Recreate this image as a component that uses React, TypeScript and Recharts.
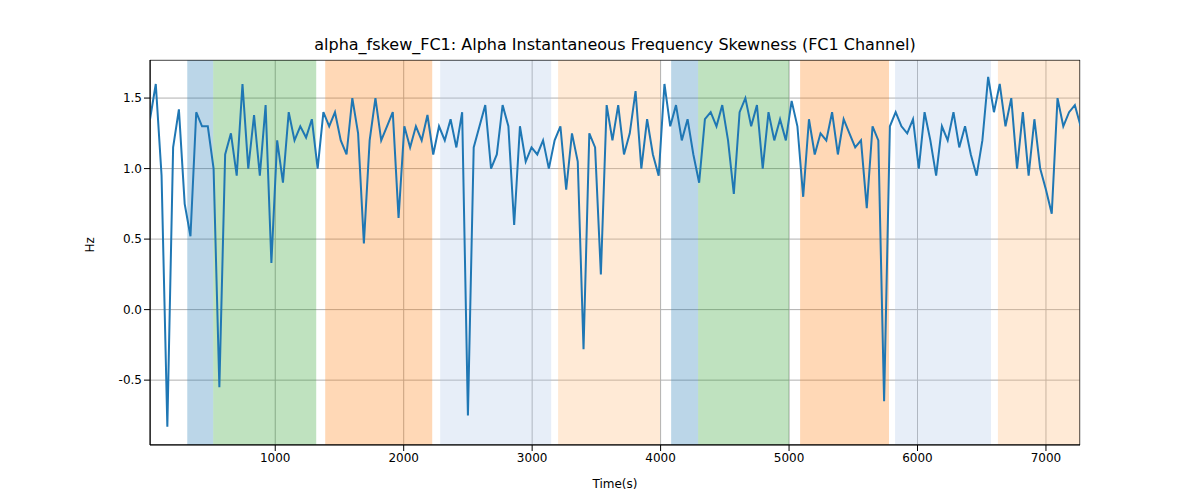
import { LineChart, Line, XAxis, YAxis, CartesianGrid, ReferenceArea } from "recharts";

const values = [
  1.35, 1.6, 0.95, -0.83, 1.15, 1.42, 0.75, 0.52, 1.4, 1.3,
  1.3, 1.0, -0.55, 1.1, 1.25, 0.95, 1.6, 1.0, 1.38, 0.95,
  1.45, 0.33, 1.2, 0.9, 1.4, 1.2, 1.3, 1.22, 1.35, 1.0,
  1.4, 1.3, 1.4, 1.2, 1.1, 1.5, 1.25, 0.47, 1.2, 1.5,
  1.2, 1.3, 1.4, 0.65, 1.3, 1.15, 1.3, 1.2, 1.38, 1.1,
  1.3, 1.2, 1.35, 1.15, 1.4, -0.75, 1.15, 1.3, 1.45, 1.0,
  1.1, 1.45, 1.3, 0.6, 1.3, 1.05, 1.15, 1.1, 1.2, 1.0,
  1.2, 1.3, 0.85, 1.25, 1.05, -0.28, 1.25, 1.15, 0.25, 1.45,
  1.2, 1.45, 1.1, 1.25, 1.55, 1.0, 1.35, 1.1, 0.95, 1.6,
  1.3, 1.45, 1.2, 1.35, 1.1, 0.9, 1.35, 1.4, 1.3, 1.45,
  1.2, 0.82, 1.4, 1.5, 1.3, 1.45, 1.0, 1.4, 1.2, 1.35,
  1.2, 1.48, 1.3, 0.8, 1.35, 1.1, 1.25, 1.2, 1.4, 1.1,
  1.35, 1.25, 1.15, 1.2, 0.72, 1.3, 1.2, -0.65, 1.3, 1.4,
  1.3, 1.25, 1.35, 1.0, 1.4, 1.2, 0.95, 1.3, 1.2, 1.4,
  1.15, 1.3, 1.1, 0.95, 1.2, 1.65, 1.4, 1.6, 1.3, 1.5,
  1.0, 1.4, 0.95, 1.35, 1.0, 0.85, 0.68, 1.5, 1.3, 1.4,
  1.45, 1.3,
];
const times = values.map((_, i) => 25 + i * 45);
const data = values.map((v, i) => ({ t: times[i], v }));

const bands: [number, number, string, number][] = [
  [315, 517, "#1f77b4", 0.3],
  [517, 1319, "#2ca02c", 0.3],
  [1389, 2222, "#ff7f0e", 0.3],
  [2284, 3148, "#aec7e8", 0.3],
  [3202, 3996, "#ffbb78", 0.3],
  [4082, 4292, "#1f77b4", 0.3],
  [4292, 5000, "#2ca02c", 0.3],
  [5086, 5778, "#ff7f0e", 0.3],
  [5825, 6572, "#aec7e8", 0.3],
  [6626, 7265, "#ffbb78", 0.3],
];

const xTicks = [1000, 2000, 3000, 4000, 5000, 6000, 7000];
const yTicks = [-0.5, 0, 0.5, 1, 1.5];

export default function App() {
  return (
    <div style={{ position: "absolute", left: 0, top: 0, width: 1200, height: 500, background: "#fff", fontFamily: "DejaVu Sans" }}>
      <div style={{ position: "absolute", top: 35, left: 150, width: 930, textAlign: "center", fontSize: 16 }}>
        alpha_fskew_FC1: Alpha Instantaneous Frequency Skewness (FC1 Channel)
      </div>
      <LineChart width={1200} height={500} data={data} margin={{ top: 60, right: 120, left: 80, bottom: 0 }}>
        {bands.map(([a, b, c, o], i) => (
          <ReferenceArea key={i} x1={a} x2={b} fill={c} fillOpacity={o} stroke="none" ifOverflow="hidden" />
        ))}
        <CartesianGrid stroke="#b0b0b0" />
        <XAxis
          dataKey="t"
          type="number"
          domain={[25, 7265]}
          ticks={xTicks}
          allowDataOverflow
          tick={{ fill: "#000", fontSize: 12 }}
          tickLine={{ stroke: "#000" }}
          axisLine={{ stroke: "#000" }}
          label={{ value: "Time(s)", position: "insideBottom", offset: 12, fill: "#000", fontSize: 12 }}
          height={55}
        />
        <YAxis
          type="number"
          domain={[-0.96, 1.77]}
          ticks={yTicks}
          allowDataOverflow
          tickFormatter={(v: number) => v.toFixed(1)}
          tick={{ fill: "#000", fontSize: 12 }}
          tickLine={{ stroke: "#000" }}
          axisLine={{ stroke: "#000" }}
          label={{ value: "Hz", angle: -90, position: "insideLeft", offset: 10, fill: "#000", fontSize: 12 }}
          width={70}
        />
        <Line dataKey="v" stroke="#1f77b4" strokeWidth={2} dot={false} isAnimationActive={false} />
        <ReferenceArea x1={25} x2={7265} fill="none" stroke="#000" ifOverflow="hidden" />
      </LineChart>
    </div>
  );
}
